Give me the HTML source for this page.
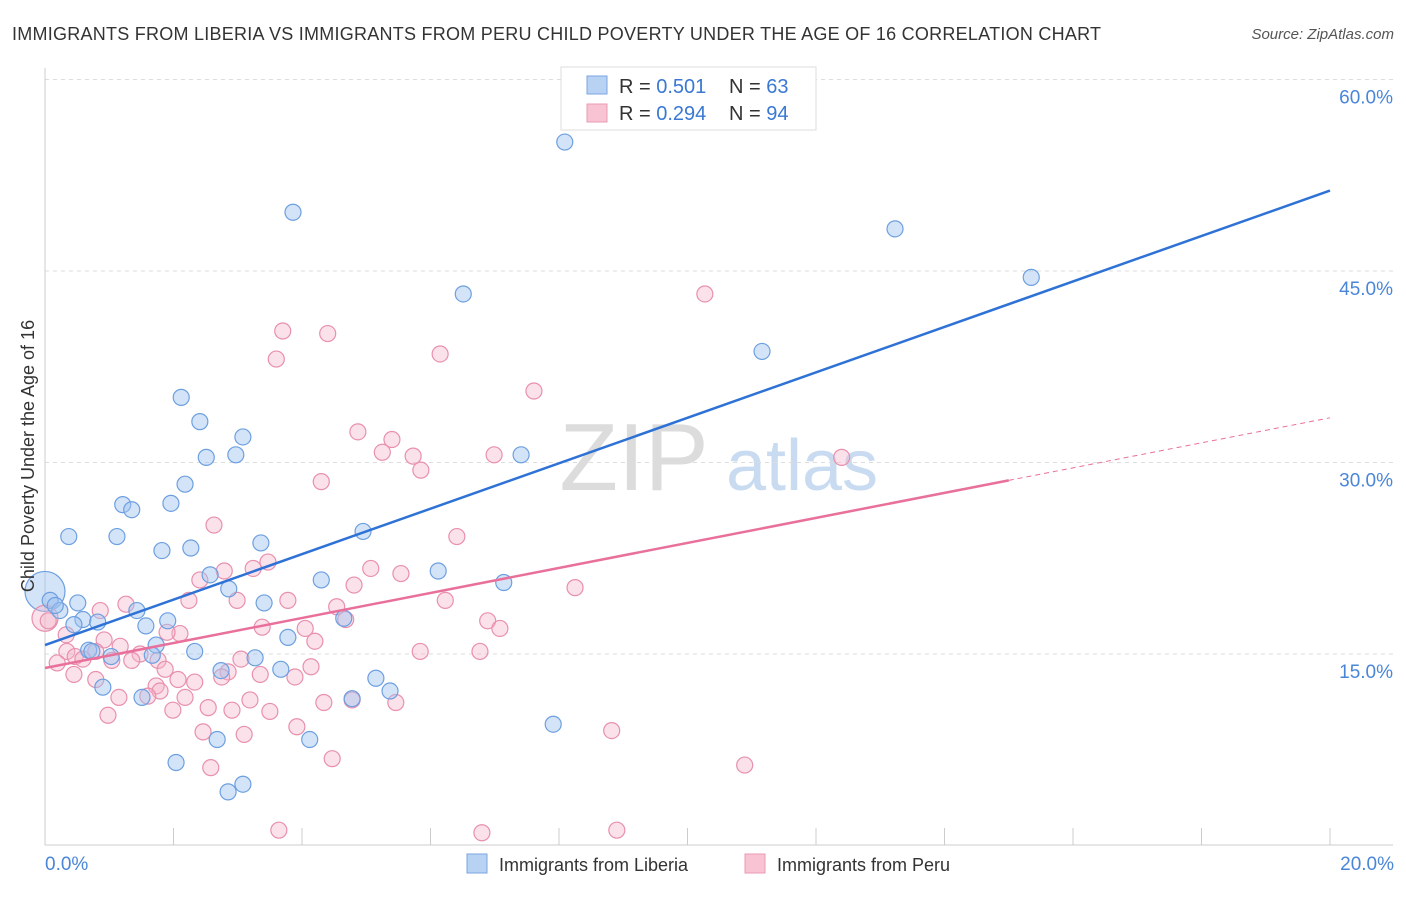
<!DOCTYPE html>
<html><head><meta charset="utf-8"><style>
body{margin:0;background:#fff;font-family:"Liberation Sans",sans-serif;}
svg text{font-family:"Liberation Sans",sans-serif;}
</style></head><body>
<svg id="chart" width="1406" height="892" xmlns="http://www.w3.org/2000/svg">
<text x="12" y="40" font-size="18" letter-spacing="0.25" fill="#333">IMMIGRANTS FROM LIBERIA VS IMMIGRANTS FROM PERU CHILD POVERTY UNDER THE AGE OF 16 CORRELATION CHART</text>
<text x="1394" y="39" font-size="15" fill="#555" font-style="italic" text-anchor="end">Source: ZipAtlas.com</text>
<g>
<text x="634" y="490" font-size="96" fill="#dcdcdc" font-family="Liberation Serif" text-anchor="middle">ZIP</text>
<text x="802" y="490" font-size="72" fill="#c9dbf1" text-anchor="middle">atlas</text>
</g>
<g id="grid"></g>
<g id="marks"></g>
<g>
<rect x="561" y="67" width="255" height="63" fill="#fff" stroke="#ddd"/>
<rect x="587" y="76" width="20" height="18" fill="#b8d2f4" stroke="#7aa6e2"/>
<rect x="587" y="104" width="20" height="18" fill="#f8c4d4" stroke="#eb9ab5"/>
<text x="619" y="93" font-size="20" fill="#333">R = <tspan fill="#3a78d4">0.501</tspan></text>
<text x="729" y="93" font-size="20" fill="#333">N = <tspan fill="#3a78d4">63</tspan></text>
<text x="619" y="120" font-size="20" fill="#333">R = <tspan fill="#3a78d4">0.294</tspan></text>
<text x="729" y="120" font-size="20" fill="#333">N = <tspan fill="#3a78d4">94</tspan></text>
</g>
<text x="34" y="456" font-size="18" fill="#333" text-anchor="middle" transform="rotate(-90 34 456)">Child Poverty Under the Age of 16</text>
<text x="45" y="870" font-size="19" fill="#4a86d8">0.0%</text>
<text x="1394" y="870" font-size="19" fill="#4a86d8" text-anchor="end">20.0%</text>
<g>
<rect x="467" y="854" width="20" height="19" fill="#b8d2f4" stroke="#7aa6e2"/>
<text x="499" y="871" font-size="18" fill="#333">Immigrants from Liberia</text>
<rect x="745" y="854" width="20" height="19" fill="#f8c4d4" stroke="#eb9ab5"/>
<text x="777" y="871" font-size="18" fill="#333">Immigrants from Peru</text>
</g>
</svg>
<script>
const yTicks=[15,30,45,60];
const yTickLabels=["15.0%","30.0%","45.0%","60.0%"];
const xTickVals=[0,2,4,6,8,10,12,14,16,18,20];
const liberiaX=[8.09,3.86,13.23,15.35,6.51,11.16,2.12,2.41,3.08,2.97,2.51,7.41,2.18,1.96,1.21,1.35,0.37,1.12,4.95,3.36,1.82,2.27,6.12,4.30,2.57,7.14,2.86,3.41,0.08,0.51,0.23,1.43,4.65,0.59,0.82,1.91,1.57,0.45,3.78,1.73,0.68,0.73,2.33,1.67,1.03,3.27,2.74,3.67,5.15,0.90,5.37,1.51,4.78,7.91,4.12,2.68,2.04,3.08,2.85,0.16];
const liberiaY=[55.1,49.6,48.3,44.5,43.2,38.7,35.1,33.2,32.0,30.6,30.4,30.6,28.3,26.8,26.7,26.3,24.2,24.2,24.6,23.7,23.1,23.3,21.5,20.8,21.2,20.6,20.1,19.0,19.2,19.0,18.4,18.4,17.8,17.7,17.5,17.6,17.2,17.3,16.3,15.7,15.3,15.2,15.2,14.9,14.8,14.7,13.7,13.8,13.1,12.4,12.1,11.6,11.5,9.5,8.3,8.3,6.5,4.8,4.2,18.8];
const peruX=[10.27,3.70,4.40,3.60,6.15,7.61,4.87,5.40,5.25,5.73,6.99,5.85,12.40,4.30,2.63,6.41,3.47,3.24,5.07,5.54,2.79,2.41,4.81,8.25,6.23,2.24,2.99,3.78,1.26,0.86,4.54,4.68,6.89,7.08,3.38,4.05,0.05,2.10,1.90,4.20,1.17,0.92,0.33,5.84,6.77,0.34,0.79,1.48,0.47,0.59,1.04,1.35,1.76,3.05,4.14,0.19,1.87,2.85,3.35,2.75,3.89,0.79,2.07,2.33,0.45,1.73,1.79,1.15,1.60,2.18,3.19,4.34,4.78,5.46,1.99,2.54,2.91,3.50,0.98,3.92,8.82,2.46,3.10,4.47,2.58,10.89,3.64,6.80,8.90];
const peruY=[43.2,40.3,40.1,38.1,38.5,35.6,32.4,31.8,30.8,30.5,30.6,29.4,30.4,28.5,25.1,24.2,22.2,21.7,21.7,21.3,21.5,20.8,20.4,20.2,19.2,19.2,19.2,19.2,18.9,18.4,18.7,17.7,17.6,17.0,17.1,17.0,17.6,16.6,16.7,16.0,15.6,16.1,16.5,15.2,15.2,15.2,15.2,15.0,14.8,14.6,14.5,14.5,14.5,14.6,14.0,14.3,13.8,13.6,13.4,13.2,13.2,13.0,13.0,12.8,13.4,12.5,12.1,11.6,11.7,11.6,11.4,11.2,11.4,11.2,10.6,10.8,10.6,10.5,10.2,9.3,9.0,8.9,8.7,6.8,6.1,6.3,1.2,1.0,1.2];
const bigPoints=[[0,19.9,'liberia',20],[0,17.8,'peru',13]];
const liberiaTrend=[15.7,51.3];
const peruTrend=[13.9,33.5];
const peruSolidEnd=15.0;

const X0=45,X1=1330,Y0=845.5,YPER=12.767;
const xs=v=>X0+(v/20)*(X1-X0);
const ys=v=>Y0-v*YPER;
const NS="http://www.w3.org/2000/svg";
function mk(tag,attrs,parent){const e=document.createElementNS(NS,tag);for(const k in attrs)e.setAttribute(k,attrs[k]);parent.appendChild(e);return e;}
const grid=document.getElementById('grid'),marks=document.getElementById('marks');
yTicks.forEach((t,i)=>{
 const l=mk('line',{x1:45,x2:1393,y1:ys(t),y2:ys(t),stroke:'#ddd','stroke-dasharray':'4,4'},grid);
 
 
 const tx=mk('text',{x:1393,y:ys(t)+24,'font-size':19,fill:'#4a86d8','text-anchor':'end'},grid);
 tx.textContent=yTickLabels[i];
 
 
});
const ax=mk('line',{x1:45,x2:1393,y1:845,y2:845,stroke:'#ccc'},grid);


const ay=mk('line',{x1:45,x2:45,y1:68,y2:845,stroke:'#ccc'},grid);


xTickVals.forEach(v=>{
 const t=mk('line',{x1:xs(v),x2:xs(v),y1:828,y2:845,stroke:'#ccc'},grid);
 
 
});
function pt(x,y,r,kind){
 const blue=kind==='liberia';
 const c=mk('circle',{cx:xs(x),cy:ys(y),r:r,fill:blue?'rgba(160,196,240,0.45)':'rgba(246,180,202,0.4)',stroke:blue?'#6d9fe0':'#e890ad','stroke-width':1.2},marks);
 
 
}
bigPoints.forEach(p=>pt(p[0],p[1],p[3],p[2]));
peruX.forEach((x,i)=>pt(x,peruY[i],8,'peru'));
liberiaX.forEach((x,i)=>pt(x,liberiaY[i],8,'liberia'));
const pAt=x=>peruTrend[0]+(peruTrend[1]-peruTrend[0])*x/20;
const pl=mk('line',{x1:xs(0),y1:ys(peruTrend[0]),x2:xs(peruSolidEnd),y2:ys(pAt(peruSolidEnd)),stroke:'#e8709a','stroke-width':2.5},marks);


const pd=mk('line',{x1:xs(peruSolidEnd),y1:ys(pAt(peruSolidEnd)),x2:xs(20),y2:ys(peruTrend[1]),stroke:'#e8709a','stroke-width':1,'stroke-dasharray':'5,4'},marks);


const bl=mk('line',{x1:xs(0),y1:ys(liberiaTrend[0]),x2:xs(20),y2:ys(liberiaTrend[1]),stroke:'#2f72d6','stroke-width':2.5},marks);


</script>
</body></html>
